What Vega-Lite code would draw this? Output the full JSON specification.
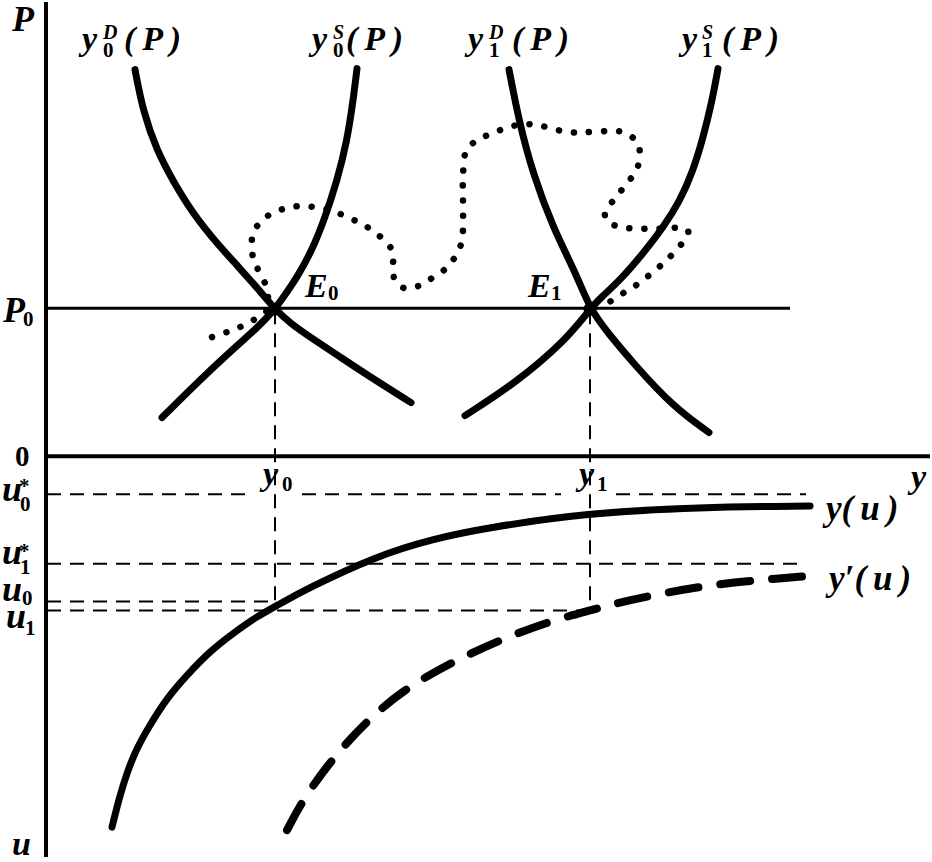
{
  "$schema": "https://vega.github.io/schema/vega-lite/v6.json",
  "width": 932,
  "height": 862,
  "padding": 0,
  "autosize": {"type": "fit", "contains": "padding"},
  "background": "white",
  "config": {"view": {"stroke": null}},
  "datasets": {
    "segs": [
      {"cls": "axis", "x": 46, "x2": 46, "v": 457, "v2": -403},
      {"cls": "axis", "x": 46, "x2": 930, "v": 0, "v2": 0},
      {"cls": "thin", "x": 46, "x2": 790, "v": 149, "v2": 149},
      {"cls": "dash", "x": 275, "x2": 275, "v": 147, "v2": -148},
      {"cls": "dash", "x": 590, "x2": 590, "v": 147, "v2": -155},
      {"cls": "dash", "x": 47, "x2": 253, "v": -38, "v2": -38},
      {"cls": "dash", "x": 302, "x2": 561, "v": -38, "v2": -38},
      {"cls": "dash", "x": 616, "x2": 806, "v": -38, "v2": -38},
      {"cls": "dash", "x": 47, "x2": 804, "v": -108, "v2": -108},
      {"cls": "dash", "x": 47, "x2": 275, "v": -146, "v2": -146},
      {"cls": "dash", "x": 47, "x2": 590, "v": -155, "v2": -155}
    ],
    "curves": [
      {"id": "y0D", "o": 1, "x": 135, "v": 389},
      {"id": "y0D", "o": 2, "x": 143, "v": 347},
      {"id": "y0D", "o": 3, "x": 157, "v": 307},
      {"id": "y0D", "o": 4, "x": 173, "v": 277},
      {"id": "y0D", "o": 5, "x": 193, "v": 244},
      {"id": "y0D", "o": 6, "x": 217, "v": 214},
      {"id": "y0D", "o": 7, "x": 240, "v": 189},
      {"id": "y0D", "o": 8, "x": 261, "v": 165},
      {"id": "y0D", "o": 9, "x": 275, "v": 148},
      {"id": "y0D", "o": 10, "x": 290, "v": 134},
      {"id": "y0D", "o": 11, "x": 313, "v": 118},
      {"id": "y0D", "o": 12, "x": 340, "v": 100},
      {"id": "y0D", "o": 13, "x": 367, "v": 82},
      {"id": "y0D", "o": 14, "x": 411, "v": 54},
      {"id": "y0S", "o": 1, "x": 357, "v": 390},
      {"id": "y0S", "o": 2, "x": 353, "v": 357},
      {"id": "y0S", "o": 3, "x": 347, "v": 317},
      {"id": "y0S", "o": 4, "x": 337, "v": 277},
      {"id": "y0S", "o": 5, "x": 325, "v": 240},
      {"id": "y0S", "o": 6, "x": 312, "v": 207},
      {"id": "y0S", "o": 7, "x": 297, "v": 180},
      {"id": "y0S", "o": 8, "x": 284, "v": 161},
      {"id": "y0S", "o": 9, "x": 275, "v": 148},
      {"id": "y0S", "o": 10, "x": 256, "v": 128},
      {"id": "y0S", "o": 11, "x": 233, "v": 108},
      {"id": "y0S", "o": 12, "x": 200, "v": 77},
      {"id": "y0S", "o": 13, "x": 162, "v": 39},
      {"id": "y1D", "o": 1, "x": 509, "v": 389},
      {"id": "y1D", "o": 2, "x": 519, "v": 337},
      {"id": "y1D", "o": 3, "x": 533, "v": 284},
      {"id": "y1D", "o": 4, "x": 553, "v": 230},
      {"id": "y1D", "o": 5, "x": 576, "v": 184},
      {"id": "y1D", "o": 6, "x": 590, "v": 148},
      {"id": "y1D", "o": 7, "x": 608, "v": 124},
      {"id": "y1D", "o": 8, "x": 633, "v": 94},
      {"id": "y1D", "o": 9, "x": 673, "v": 50},
      {"id": "y1D", "o": 10, "x": 709, "v": 24},
      {"id": "y1S", "o": 1, "x": 718, "v": 390},
      {"id": "y1S", "o": 2, "x": 712, "v": 357},
      {"id": "y1S", "o": 3, "x": 703, "v": 320},
      {"id": "y1S", "o": 4, "x": 693, "v": 287},
      {"id": "y1S", "o": 5, "x": 680, "v": 257},
      {"id": "y1S", "o": 6, "x": 663, "v": 230},
      {"id": "y1S", "o": 7, "x": 643, "v": 204},
      {"id": "y1S", "o": 8, "x": 620, "v": 177},
      {"id": "y1S", "o": 9, "x": 600, "v": 159},
      {"id": "y1S", "o": 10, "x": 590, "v": 148},
      {"id": "y1S", "o": 11, "x": 566, "v": 117},
      {"id": "y1S", "o": 12, "x": 516, "v": 74},
      {"id": "y1S", "o": 13, "x": 465, "v": 41},
      {"id": "yu", "o": 1, "x": 112, "v": -373},
      {"id": "yu", "o": 2, "x": 120, "v": -340},
      {"id": "yu", "o": 3, "x": 133, "v": -300},
      {"id": "yu", "o": 4, "x": 150, "v": -270},
      {"id": "yu", "o": 5, "x": 167, "v": -243},
      {"id": "yu", "o": 6, "x": 187, "v": -220},
      {"id": "yu", "o": 7, "x": 210, "v": -196},
      {"id": "yu", "o": 8, "x": 233, "v": -178},
      {"id": "yu", "o": 9, "x": 257, "v": -161},
      {"id": "yu", "o": 10, "x": 277, "v": -150},
      {"id": "yu", "o": 11, "x": 307, "v": -133},
      {"id": "yu", "o": 12, "x": 377, "v": -100},
      {"id": "yu", "o": 13, "x": 433, "v": -83},
      {"id": "yu", "o": 14, "x": 486, "v": -72},
      {"id": "yu", "o": 15, "x": 586, "v": -57},
      {"id": "yu", "o": 16, "x": 699, "v": -51},
      {"id": "yu", "o": 17, "x": 810, "v": -50},
      {"id": "ypu", "o": 1, "x": 287, "v": -376},
      {"id": "ypu", "o": 2, "x": 303, "v": -345},
      {"id": "ypu", "o": 3, "x": 333, "v": -303},
      {"id": "ypu", "o": 4, "x": 367, "v": -266},
      {"id": "ypu", "o": 5, "x": 403, "v": -235},
      {"id": "ypu", "o": 6, "x": 450, "v": -208},
      {"id": "ypu", "o": 7, "x": 499, "v": -185},
      {"id": "ypu", "o": 8, "x": 549, "v": -166},
      {"id": "ypu", "o": 9, "x": 590, "v": -155},
      {"id": "ypu", "o": 10, "x": 619, "v": -147},
      {"id": "ypu", "o": 11, "x": 666, "v": -137},
      {"id": "ypu", "o": 12, "x": 719, "v": -128},
      {"id": "ypu", "o": 13, "x": 776, "v": -123},
      {"id": "ypu", "o": 14, "x": 813, "v": -120}
    ],
    "dots": [
      {"o": 1, "x": 212, "v": 120},
      {"o": 2, "x": 227, "v": 125},
      {"o": 3, "x": 240, "v": 130},
      {"o": 4, "x": 255, "v": 138},
      {"o": 5, "x": 268, "v": 148},
      {"o": 6, "x": 268, "v": 160},
      {"o": 7, "x": 265, "v": 174},
      {"o": 8, "x": 257, "v": 190},
      {"o": 9, "x": 253, "v": 200},
      {"o": 10, "x": 252, "v": 212},
      {"o": 11, "x": 253, "v": 225},
      {"o": 12, "x": 262, "v": 237},
      {"o": 13, "x": 273, "v": 245},
      {"o": 14, "x": 288, "v": 250},
      {"o": 15, "x": 303, "v": 252},
      {"o": 16, "x": 318, "v": 250},
      {"o": 17, "x": 333, "v": 247},
      {"o": 18, "x": 348, "v": 240},
      {"o": 19, "x": 362, "v": 234},
      {"o": 20, "x": 375, "v": 225},
      {"o": 21, "x": 387, "v": 215},
      {"o": 22, "x": 393, "v": 204},
      {"o": 23, "x": 393, "v": 190},
      {"o": 24, "x": 395, "v": 177},
      {"o": 25, "x": 405, "v": 169},
      {"o": 26, "x": 420, "v": 172},
      {"o": 27, "x": 433, "v": 180},
      {"o": 28, "x": 447, "v": 190},
      {"o": 29, "x": 457, "v": 204},
      {"o": 30, "x": 462, "v": 217},
      {"o": 31, "x": 463, "v": 230},
      {"o": 32, "x": 463, "v": 257},
      {"o": 33, "x": 463, "v": 282},
      {"o": 34, "x": 466, "v": 307},
      {"o": 35, "x": 479, "v": 319},
      {"o": 36, "x": 493, "v": 325},
      {"o": 37, "x": 508, "v": 331},
      {"o": 38, "x": 524, "v": 334},
      {"o": 39, "x": 539, "v": 333},
      {"o": 40, "x": 554, "v": 329},
      {"o": 41, "x": 569, "v": 326},
      {"o": 42, "x": 584, "v": 326},
      {"o": 43, "x": 603, "v": 327},
      {"o": 44, "x": 619, "v": 327},
      {"o": 45, "x": 631, "v": 322},
      {"o": 46, "x": 639, "v": 312},
      {"o": 47, "x": 639, "v": 297},
      {"o": 48, "x": 636, "v": 287},
      {"o": 49, "x": 629, "v": 277},
      {"o": 50, "x": 621, "v": 267},
      {"o": 51, "x": 613, "v": 257},
      {"o": 52, "x": 605, "v": 245},
      {"o": 53, "x": 609, "v": 235},
      {"o": 54, "x": 624, "v": 230},
      {"o": 55, "x": 641, "v": 229},
      {"o": 56, "x": 659, "v": 229},
      {"o": 57, "x": 676, "v": 230},
      {"o": 58, "x": 688, "v": 227},
      {"o": 59, "x": 684, "v": 217},
      {"o": 60, "x": 674, "v": 205},
      {"o": 61, "x": 663, "v": 194},
      {"o": 62, "x": 649, "v": 182},
      {"o": 63, "x": 636, "v": 172},
      {"o": 64, "x": 623, "v": 164},
      {"o": 65, "x": 609, "v": 155},
      {"o": 66, "x": 598, "v": 149}
    ],
    "eq": [
      {"x": 275, "v": 148},
      {"x": 590, "v": 148}
    ],
    "labels": [
      {"cls": "big", "t": "P", "x": 12, "v": 428},
      {"cls": "big", "t": "P", "x": 3, "v": 135},
      {"cls": "big", "t": "u", "x": 2, "v": -45},
      {"cls": "big", "t": "u", "x": 2, "v": -108},
      {"cls": "big", "t": "u", "x": 2, "v": -145},
      {"cls": "big", "t": "u", "x": 6, "v": -173},
      {"cls": "lab", "t": "u", "x": 12, "v": -401},
      {"cls": "lab", "t": "y", "x": 82, "v": 409},
      {"cls": "lab", "t": "(\u2009P\u2009)", "x": 124, "v": 409},
      {"cls": "lab", "t": "y", "x": 312, "v": 409},
      {"cls": "lab", "t": "(\u2009P\u2009)", "x": 346, "v": 409},
      {"cls": "lab", "t": "y", "x": 468, "v": 409},
      {"cls": "lab", "t": "(\u2009P\u2009)", "x": 512, "v": 409},
      {"cls": "lab", "t": "y", "x": 682, "v": 409},
      {"cls": "lab", "t": "(\u2009P\u2009)", "x": 722, "v": 409},
      {"cls": "lab", "t": "E", "x": 305, "v": 160},
      {"cls": "lab", "t": "E", "x": 528, "v": 160},
      {"cls": "lab", "t": "y", "x": 263, "v": -29},
      {"cls": "lab", "t": "y", "x": 579, "v": -29},
      {"cls": "lab", "t": "y", "x": 911, "v": -32},
      {"cls": "lab2", "t": "y(\u2009u\u2009)", "x": 826, "v": -64},
      {"cls": "lab2", "t": "y\u2032(\u2009u\u2009)", "x": 829, "v": -134},
      {"cls": "sub", "t": "0", "x": 103, "v": 402},
      {"cls": "sub", "t": "0", "x": 333, "v": 402},
      {"cls": "sub", "t": "1", "x": 489, "v": 402},
      {"cls": "sub", "t": "1", "x": 702, "v": 402},
      {"cls": "sub", "t": "0", "x": 328, "v": 157},
      {"cls": "sub", "t": "1", "x": 551, "v": 157},
      {"cls": "sub", "t": "0", "x": 23, "v": 131},
      {"cls": "sub", "t": "0", "x": 20, "v": -55},
      {"cls": "sub", "t": "1", "x": 20, "v": -118},
      {"cls": "sub", "t": "0", "x": 22, "v": -150},
      {"cls": "sub", "t": "1", "x": 25, "v": -180},
      {"cls": "sub", "t": "0", "x": 282, "v": -35},
      {"cls": "sub", "t": "1", "x": 597, "v": -35},
      {"cls": "sub", "t": "*", "x": 19, "v": -37},
      {"cls": "sub", "t": "*", "x": 19, "v": -102},
      {"cls": "sup", "t": "D", "x": 103, "v": 420},
      {"cls": "sup", "t": "S", "x": 333, "v": 420},
      {"cls": "sup", "t": "D", "x": 489, "v": 420},
      {"cls": "sup", "t": "S", "x": 702, "v": 420},
      {"cls": "num", "t": "0", "x": 15, "v": -10}
    ]
  },
  "encoding": {
    "x": {"field": "x", "type": "quantitative", "scale": {"domain": [0, 932], "nice": false, "zero": false}, "axis": null},
    "y": {"field": "v", "type": "quantitative", "scale": {"domain": [-405, 457], "nice": false, "zero": false}, "axis": null}
  },
  "layer": [
    {
      "data": {"name": "segs"},
      "transform": [{"filter": "datum.cls === 'axis'"}],
      "mark": {"type": "rule", "stroke": "black", "strokeWidth": 4},
      "encoding": {"x2": {"field": "x2"}, "y2": {"field": "v2"}}
    },
    {
      "data": {"name": "segs"},
      "transform": [{"filter": "datum.cls === 'thin'"}],
      "mark": {"type": "rule", "stroke": "black", "strokeWidth": 3},
      "encoding": {"x2": {"field": "x2"}, "y2": {"field": "v2"}}
    },
    {
      "data": {"name": "segs"},
      "transform": [{"filter": "datum.cls === 'dash'"}],
      "mark": {"type": "rule", "stroke": "black", "strokeWidth": 2, "strokeDash": [14, 9]},
      "encoding": {"x2": {"field": "x2"}, "y2": {"field": "v2"}}
    },
    {
      "data": {"name": "curves"},
      "transform": [{"filter": "datum.id !== 'ypu'"}],
      "mark": {"type": "line", "stroke": "black", "strokeWidth": 7, "interpolate": "basis", "strokeCap": "round"},
      "encoding": {"detail": {"field": "id"}, "order": {"field": "o", "type": "quantitative"}}
    },
    {
      "data": {"name": "curves"},
      "transform": [{"filter": "datum.id === 'ypu'"}],
      "mark": {"type": "line", "stroke": "black", "strokeWidth": 8, "interpolate": "basis", "strokeCap": "round", "strokeDash": [30, 22]},
      "encoding": {"order": {"field": "o", "type": "quantitative"}}
    },
    {
      "data": {"name": "dots"},
      "mark": {"type": "line", "stroke": "black", "strokeWidth": 6.5, "interpolate": "cardinal", "strokeCap": "round", "strokeDash": [0.1, 15]},
      "encoding": {"order": {"field": "o", "type": "quantitative"}}
    },
    {
      "data": {"name": "eq"},
      "mark": {"type": "point", "shape": "circle", "filled": true, "color": "black", "size": 170, "opacity": 1}
    },
    {
      "data": {"name": "labels"},
      "transform": [{"filter": "datum.cls === 'big'"}],
      "mark": {"type": "text", "align": "left", "baseline": "alphabetic", "font": "Liberation Serif", "fontStyle": "italic", "fontWeight": "bold", "fontSize": 36, "color": "black"},
      "encoding": {"text": {"field": "t"}}
    },
    {
      "data": {"name": "labels"},
      "transform": [{"filter": "datum.cls === 'lab'"}],
      "mark": {"type": "text", "align": "left", "baseline": "alphabetic", "font": "Liberation Serif", "fontStyle": "italic", "fontWeight": "bold", "fontSize": 34, "color": "black"},
      "encoding": {"text": {"field": "t"}}
    },
    {
      "data": {"name": "labels"},
      "transform": [{"filter": "datum.cls === 'lab2'"}],
      "mark": {"type": "text", "align": "left", "baseline": "alphabetic", "font": "Liberation Serif", "fontStyle": "italic", "fontWeight": "bold", "fontSize": 35, "color": "black"},
      "encoding": {"text": {"field": "t"}}
    },
    {
      "data": {"name": "labels"},
      "transform": [{"filter": "datum.cls === 'sub'"}],
      "mark": {"type": "text", "align": "left", "baseline": "alphabetic", "font": "Liberation Serif", "fontWeight": "bold", "fontSize": 21, "color": "black"},
      "encoding": {"text": {"field": "t"}}
    },
    {
      "data": {"name": "labels"},
      "transform": [{"filter": "datum.cls === 'sup'"}],
      "mark": {"type": "text", "align": "left", "baseline": "alphabetic", "font": "Liberation Serif", "fontStyle": "italic", "fontWeight": "bold", "fontSize": 20, "color": "black"},
      "encoding": {"text": {"field": "t"}}
    },
    {
      "data": {"name": "labels"},
      "transform": [{"filter": "datum.cls === 'num'"}],
      "mark": {"type": "text", "align": "left", "baseline": "alphabetic", "font": "Liberation Serif", "fontWeight": "bold", "fontSize": 29, "color": "black"},
      "encoding": {"text": {"field": "t"}}
    }
  ]
}
